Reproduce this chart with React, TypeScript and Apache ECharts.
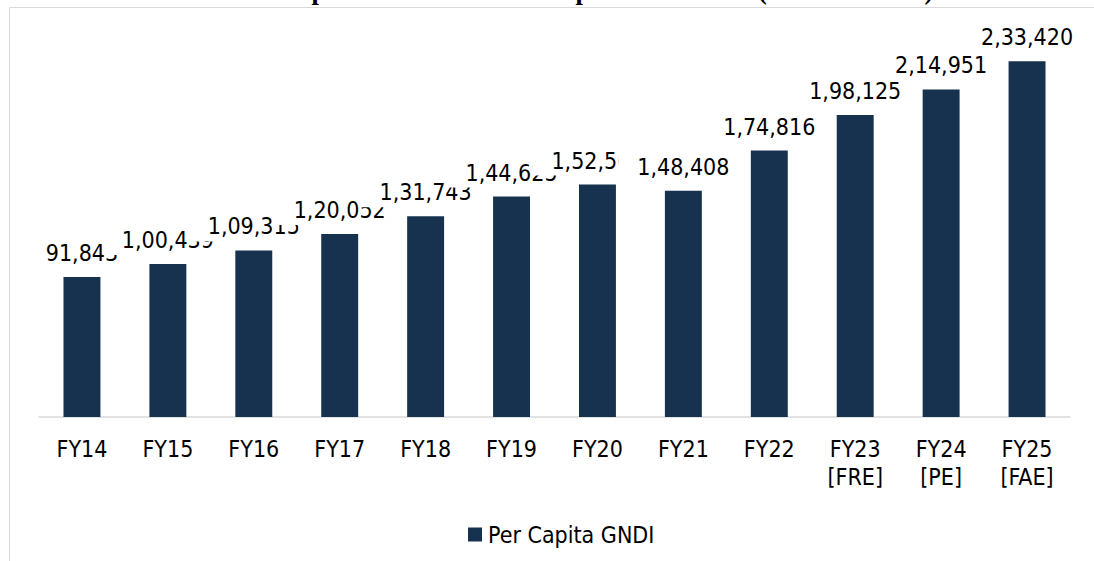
import React, { useEffect, useRef } from "react";
import * as echarts from "echarts";

const categories = [
  "FY14", "FY15", "FY16", "FY17", "FY18", "FY19", "FY20", "FY21", "FY22",
  "FY23\n[FRE]", "FY24\n[PE]", "FY25\n[FAE]",
];
const gndiValues = [
  91843, 100439, 109315, 120052, 131743, 144625, 152504, 148408, 174816,
  198125, 214951, 233420,
];
const seriesName = "Per Capita GNDI";
const titleText =
  "Chart 10: Trend of Per Capita Gross National Disposable Income (Current Price)";

const FONT = '"DejaVu Sans Condensed", "DejaVu Sans", sans-serif';

function indianFormat(n: number): string {
  const s = String(Math.round(n));
  if (s.length <= 3) return s;
  const last3 = s.slice(-3);
  let rest = s.slice(0, -3);
  const parts: string[] = [];
  while (rest.length > 2) {
    parts.unshift(rest.slice(-2));
    rest = rest.slice(0, -2);
  }
  if (rest.length) parts.unshift(rest);
  return parts.join(",") + "," + last3;
}

export default function App() {
  const ref = useRef<HTMLDivElement>(null);
  useEffect(() => {
    document.body.style.margin = "0";
    const chart = echarts.init(ref.current!, null, { renderer: "svg" });
    chart.setOption({
      animation: false,
      backgroundColor: "#ffffff",
      graphic: [
        {
          type: "rect",
          z: -10,
          shape: { x: 9.5, y: 7.5, width: 1200, height: 700 },
          style: { fill: "none", stroke: "#d9d9d9", lineWidth: 1 },
          silent: true,
        },
        {
          type: "text",
          x: 14,
          y: -10,
          style: {
            text: titleText,
            font: 'bold 26.5px "Liberation Serif", serif',
            fill: "#000",
            textVerticalAlign: "middle",
          },
          silent: true,
        },
      ],
      grid: { left: 39, right: 24, top: 36, bottom: 144, containLabel: false },
      legend: {
        data: [seriesName],
        left: 463,
        top: 518,
        icon: "rect",
        itemWidth: 14,
        itemHeight: 14,
        itemGap: 10,
        textStyle: { fontFamily: FONT, fontSize: 23, color: "#000", lineHeight: 23, padding: [0, 0, 0, 1] },
      },
      xAxis: {
        type: "category",
        data: categories,
        axisLine: { show: true, lineStyle: { color: "#d9d9d9", width: 1.5 } },
        axisTick: { show: false },
        axisLabel: {
          interval: 0,
          color: "#000",
          fontFamily: FONT,
          fontSize: 23,
          lineHeight: 28,
          margin: 18,
        },
      },
      yAxis: {
        type: "value",
        min: 0,
        max: 250000,
        show: false,
        splitLine: { show: false },
      },
      series: [
        {
          name: seriesName,
          type: "bar",
          data: gndiValues,
          barCategoryGap: "57%",
          itemStyle: { color: "#17324f" },
          label: {
            show: true,
            position: "top",
            distance: 9,
            color: "#000",
            fontFamily: FONT,
            fontSize: 23,
            lineHeight: 23,
            backgroundColor: "#ffffff",
            padding: [4, 19, 3.5, 19],
            formatter: (p: any) => indianFormat(p.value),
          },
        },
      ],
    });
    return () => chart.dispose();
  }, []);
  return <div ref={ref} style={{ width: 1094, height: 561 }} />;
}
